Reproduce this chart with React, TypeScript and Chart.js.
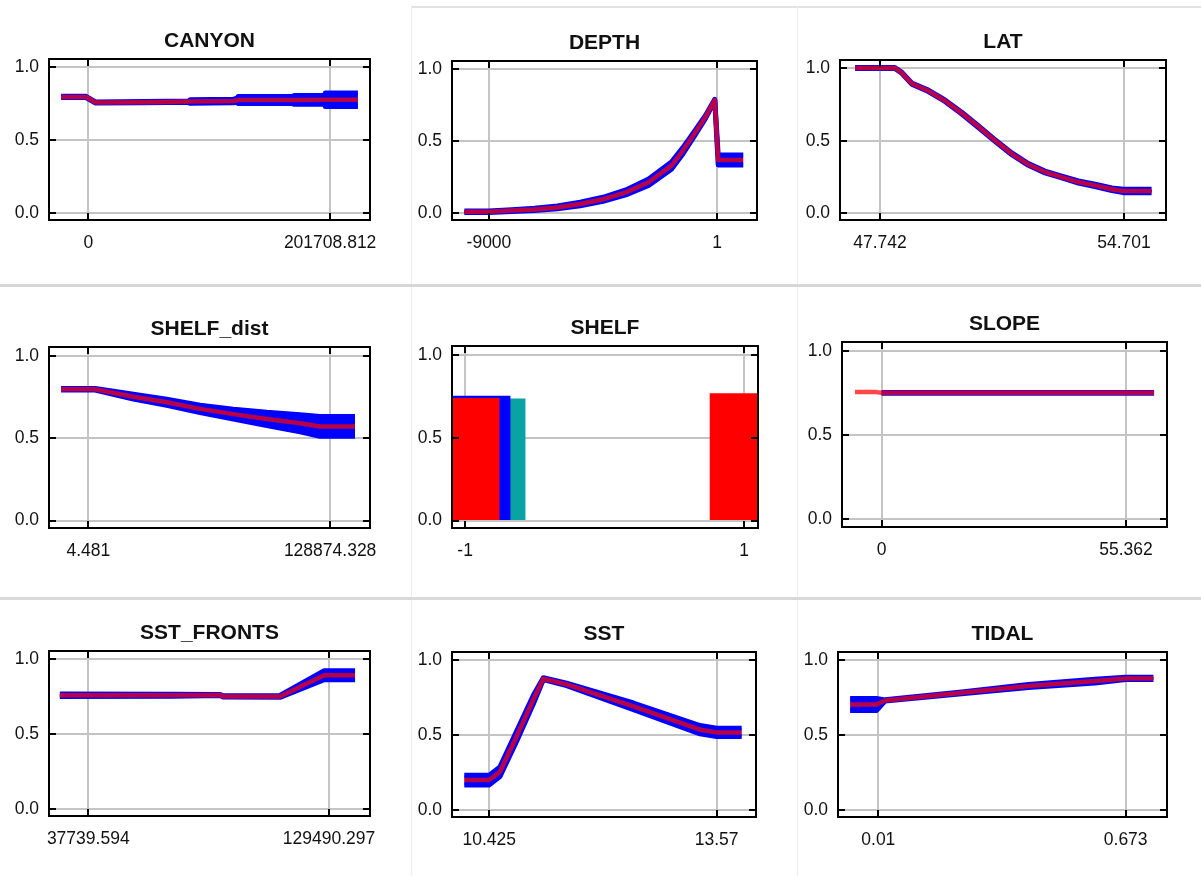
import React, { useEffect, useRef } from "react";
import { Chart, registerables } from "chart.js";
Chart.register(...registerables);

// ---------------- data ----------------
const yTickValues = [0, 0.5, 1];
const yTickLabels = ["0.0", "0.5", "1.0"];

const canyonTicks = [0, 201708.812];
const canyonTickLabels = ["0", "201708.812"];
const canyonX = [-22800, -2000, 6000, 46400, 84700, 84700, 121000, 125000, 125000, 171500, 171500, 197700, 197700, 224900];
const canyonMean = [0.796, 0.796, 0.758, 0.76, 0.764, 0.764, 0.768, 0.775, 0.775, 0.775, 0.775, 0.776, 0.776, 0.776];
const canyonSd = [0.004, 0.004, 0.004, 0.004, 0.004, 0.012, 0.012, 0.014, 0.024, 0.024, 0.03, 0.03, 0.046, 0.046];

const depthTicks = [-9000, 1];
const depthTickLabels = ["-9000", "1"];
const depthX = [-9970, -9000, -8100, -7200, -6300, -5400, -4500, -3600, -2700, -1800, -1350, -900, -450, -90, 45, 1035];
const depthMean = [0.012, 0.012, 0.02, 0.028, 0.042, 0.066, 0.098, 0.146, 0.216, 0.331, 0.434, 0.55, 0.67, 0.785, 0.37, 0.37];
const depthSd = [0.005, 0.005, 0.006, 0.008, 0.01, 0.012, 0.014, 0.017, 0.022, 0.025, 0.022, 0.016, 0.01, 0.005, 0.034, 0.034];

const latTicks = [47.742, 54.701];
const latTickLabels = ["47.742", "54.701"];
const latX = [47.03, 48.166, 48.361, 48.647, 49.12, 49.593, 50.073, 50.546, 51.02, 51.5, 51.973, 52.446, 52.926, 53.4, 53.873, 54.353, 54.68, 55.487];
const latMean = [1.0, 1.0, 0.968, 0.893, 0.843, 0.775, 0.69, 0.597, 0.502, 0.41, 0.337, 0.285, 0.25, 0.216, 0.193, 0.166, 0.155, 0.155];
const latSd = [0.003, 0.003, 0.004, 0.004, 0.005, 0.005, 0.006, 0.006, 0.006, 0.006, 0.006, 0.006, 0.006, 0.007, 0.008, 0.009, 0.012, 0.012];

const shelfDistTicks = [4.481, 128874.328];
const shelfDistTickLabels = ["4.481", "128874.328"];
const shelfDistX = [-14560, 3610, 23970, 41760, 59540, 77330, 95110, 112890, 123460, 142150];
const shelfDistMean = [0.798, 0.798, 0.753, 0.719, 0.679, 0.647, 0.618, 0.592, 0.572, 0.572];
const shelfDistSd = [0.005, 0.005, 0.015, 0.018, 0.022, 0.03, 0.04, 0.052, 0.06, 0.06];

const shelfCats = [-1, 1];
const shelfTickLabels = ["-1", "1"];
const shelfMean = [0.738, 0.768];
const shelfPlusSd = [0.752, null];
const shelfMinusSd = [0.735, null];

const slopeTicks = [0, 55.362];
const slopeTickLabels = ["0", "55.362"];
const slopeX = [-6.03, -1.2, 0, 61.73];
const slopeMean = [0.757, 0.757, 0.753, 0.753];
const slopeSd = [null, null, 0.002, 0.002];

const sstFrontsTicks = [37739.594, 129490.297];
const sstFrontsTickLabels = ["37739.594", "129490.297"];
const sstFrontsX = [26910, 69850, 88020, 89120, 110770, 127660, 139400];
const sstFrontsMean = [0.76, 0.76, 0.762, 0.752, 0.752, 0.893, 0.893];
const sstFrontsSd = [0.008, 0.006, 0.003, 0.004, 0.006, 0.03, 0.03];

const sstTicks = [10.425, 13.57];
const sstTickLabels = ["10.425", "13.57"];
const sstX = [10.079, 10.425, 10.573, 10.802, 11.035, 11.173, 11.494, 12.419, 13.34, 13.57, 13.916];
const sstMean = [0.201, 0.201, 0.257, 0.492, 0.738, 0.877, 0.839, 0.693, 0.537, 0.519, 0.519];
const sstSd = [0.032, 0.032, 0.032, 0.034, 0.028, 0.006, 0.008, 0.022, 0.028, 0.028, 0.028];

const tidalTicks = [0.01, 0.673];
const tidalTickLabels = ["0.01", "0.673"];
const tidalX = [-0.0656, 0.005, 0.0279, 0.2334, 0.4124, 0.5908, 0.673, 0.7473];
const tidalMean = [0.705, 0.705, 0.732, 0.783, 0.828, 0.861, 0.879, 0.879];
const tidalSd = [0.04, 0.04, 0.004, 0.006, 0.01, 0.012, 0.008, 0.008];

// ---------------- layout / style ----------------
const M = 48;
const TOP = 50;
const BOT = 45;
const Y_MIN = -0.045;
const Y_MAX = 1.055;
const GRID = "#c4c4c4";
const FONT = '"Liberation Sans", Arial, Helvetica, sans-serif';
const RED = "rgba(255,0,0,0.72)";
const BLUE = "#0000ff";
const TEAL = "#0aa3a3";

type Panel = {
  title: string;
  box: number[];
  padL: number;
  padR: number;
  ticks: number[];
  labels: string[];
  x?: number[];
  mean?: (number | null)[];
  sd?: (number | null)[];
  bars?: boolean;
};

const panels: Panel[] = [
  { title: "CANYON", box: [49, 59, 370, 220], padL: 0.163, padR: 0.165, ticks: canyonTicks, labels: canyonTickLabels, x: canyonX, mean: canyonMean, sd: canyonSd },
  { title: "DEPTH", box: [452, 61, 757, 220], padL: 0.162, padR: 0.175, ticks: depthTicks, labels: depthTickLabels, x: depthX, mean: depthMean, sd: depthSd },
  { title: "LAT", box: [840, 60, 1166, 220], padL: 0.164, padR: 0.172, ticks: latTicks, labels: latTickLabels, x: latX, mean: latMean, sd: latSd },
  { title: "SHELF_dist", box: [49, 347, 370, 528], padL: 0.163, padR: 0.165, ticks: shelfDistTicks, labels: shelfDistTickLabels, x: shelfDistX, mean: shelfDistMean, sd: shelfDistSd },
  { title: "SHELF", box: [452, 346, 758, 528], padL: 0.047, padR: 0.05, ticks: shelfCats, labels: shelfTickLabels, bars: true },
  { title: "SLOPE", box: [842, 342, 1167, 527], padL: 0.162, padR: 0.168, ticks: slopeTicks, labels: slopeTickLabels, x: slopeX, mean: slopeMean, sd: slopeSd },
  { title: "SST_FRONTS", box: [49, 651, 370, 816], padL: 0.163, padR: 0.17, ticks: sstFrontsTicks, labels: sstFrontsTickLabels, x: sstFrontsX, mean: sstFrontsMean, sd: sstFrontsSd },
  { title: "SST", box: [452, 652, 756, 817], padL: 0.164, padR: 0.173, ticks: sstTicks, labels: sstTickLabels, x: sstX, mean: sstMean, sd: sstSd },
  { title: "TIDAL", box: [838, 652, 1167, 817], padL: 0.163, padR: 0.167, ticks: tidalTicks, labels: tidalTickLabels, x: tidalX, mean: tidalMean, sd: tidalSd },
];

const boxPlugin = {
  id: "maxentBox",
  afterDraw(chart: any) {
    const { ctx, chartArea: a, scales } = chart;
    ctx.save();
    ctx.strokeStyle = "#000";
    ctx.lineWidth = 2;
    ctx.strokeRect(a.left, a.top, a.right - a.left, a.bottom - a.top);
    const L = 7;
    ctx.beginPath();
    scales.y.ticks.forEach((t: any) => {
      const y = Math.round(scales.y.getPixelForValue(t.value));
      ctx.moveTo(a.left, y);
      ctx.lineTo(a.left + L, y);
      ctx.moveTo(a.right, y);
      ctx.lineTo(a.right - L, y);
    });
    scales.x.ticks.forEach((t: any) => {
      const x = Math.round(scales.x.getPixelForValue(t.value));
      ctx.moveTo(x, a.top);
      ctx.lineTo(x, a.top + L);
      ctx.moveTo(x, a.bottom);
      ctx.lineTo(x, a.bottom - L);
    });
    ctx.stroke();
    ctx.restore();
  },
};

function makeConfig(p: Panel): any {
  const range = p.ticks[1] - p.ticks[0];
  const xMin = p.ticks[0] - p.padL * range;
  const xMax = p.ticks[1] + p.padR * range;
  const tickFont = { family: FONT, size: 17.5 };

  let datasets: any[] = [];
  if (p.bars) {
    const mk = (vals: (number | null)[], color: string, thick: number) => ({
      type: "bar",
      data: shelfCats.map((c, i) => ({ x: c, y: vals[i] })),
      backgroundColor: color,
      borderWidth: 0,
      barThickness: thick,
      grouped: false,
      clip: 0,
    });
    datasets = [mk(shelfMean, "#ff0000", 68), mk(shelfPlusSd, BLUE, 90), mk(shelfMinusSd, TEAL, 120)];
  } else {
    const xs = p.x!;
    const mean = p.mean!;
    const sd = p.sd!;
    const upper = xs.map((x, i) => ({ x, y: sd[i] == null ? null : (mean[i] as number) + (sd[i] as number) }));
    const lower = xs.map((x, i) => ({ x, y: sd[i] == null ? null : (mean[i] as number) - (sd[i] as number) }));
    const lineBase = { type: "line", pointRadius: 0, tension: 0, borderJoinStyle: "round" };
    datasets = [
      { ...lineBase, data: xs.map((x, i) => ({ x, y: mean[i] })), borderColor: RED, borderWidth: 4.5, fill: false },
      { ...lineBase, data: upper, borderColor: BLUE, backgroundColor: BLUE, borderWidth: 5, fill: "+1" },
      { ...lineBase, data: lower, borderColor: BLUE, borderWidth: 5, fill: false },
    ];
  }

  return {
    type: p.bars ? "bar" : "line",
    data: { datasets },
    options: {
      animation: false,
      responsive: false,
      maintainAspectRatio: false,
      events: [],
      layout: { padding: { left: 0, right: M, top: 0, bottom: 0 } },
      plugins: {
        legend: { display: false },
        tooltip: { enabled: false },
        title: {
          display: true,
          text: p.title,
          fullSize: false,
          color: "#111",
          font: { family: FONT, size: 21, weight: "bold", lineHeight: "24px" },
          padding: { top: 20, bottom: 6 },
        },
      },
      scales: {
        x: {
          type: "linear",
          min: xMin,
          max: xMax,
          offset: false,
          afterBuildTicks: (s: any) => {
            s.ticks = p.ticks.map((v) => ({ value: v }));
          },
          afterFit: (s: any) => {
            s.height = BOT;
          },
          ticks: {
            callback: (_v: any, i: number) => p.labels[i],
            font: tickFont,
            color: "#111",
            padding: 13,
            maxRotation: 0,
            autoSkip: false,
          },
          grid: { color: GRID, lineWidth: 2, drawTicks: false, offset: false },
          border: { display: false },
        },
        y: {
          type: "linear",
          min: Y_MIN,
          max: Y_MAX,
          afterBuildTicks: (s: any) => {
            s.ticks = yTickValues.map((v) => ({ value: v }));
          },
          afterFit: (s: any) => {
            s.width = M;
          },
          ticks: {
            callback: (_v: any, i: number) => yTickLabels[i],
            font: tickFont,
            color: "#111",
            padding: 10,
          },
          grid: { color: GRID, lineWidth: 2, drawTicks: false },
          border: { display: false },
        },
      },
    },
    plugins: [boxPlugin],
  };
}

function PanelChart({ p }: { p: Panel }) {
  const ref = useRef<HTMLCanvasElement | null>(null);
  useEffect(() => {
    if (!ref.current) return;
    const chart = new Chart(ref.current, makeConfig(p));
    return () => chart.destroy();
  }, [p]);
  const [l, t, r, b] = p.box;
  const w = r - l + 2 * M;
  const h = b - t + TOP + BOT;
  return (
    <canvas
      ref={ref}
      width={w}
      height={h}
      style={{ position: "absolute", left: l - M, top: t - TOP, width: w, height: h }}
    />
  );
}

const sep = (s: React.CSSProperties) => <div style={{ position: "absolute", ...s }} />;

export default function App() {
  return (
    <div
      style={{
        position: "fixed",
        left: 0,
        top: 0,
        width: 1201,
        height: 876,
        background: "#ffffff",
        overflow: "hidden",
      }}
    >
      {sep({ left: 411, top: 6, width: 790, height: 2, background: "#e2e2e2" })}
      {sep({ left: 411, top: 6, width: 1, height: 870, background: "#ececec" })}
      {sep({ left: 797, top: 6, width: 1, height: 870, background: "#ececec" })}
      {sep({ left: 0, top: 284, width: 1201, height: 3, background: "#d6d6d6" })}
      {sep({ left: 0, top: 597, width: 1201, height: 3, background: "#d9d9d9" })}
      {panels.map((p) => (
        <PanelChart key={p.title} p={p} />
      ))}
    </div>
  );
}
